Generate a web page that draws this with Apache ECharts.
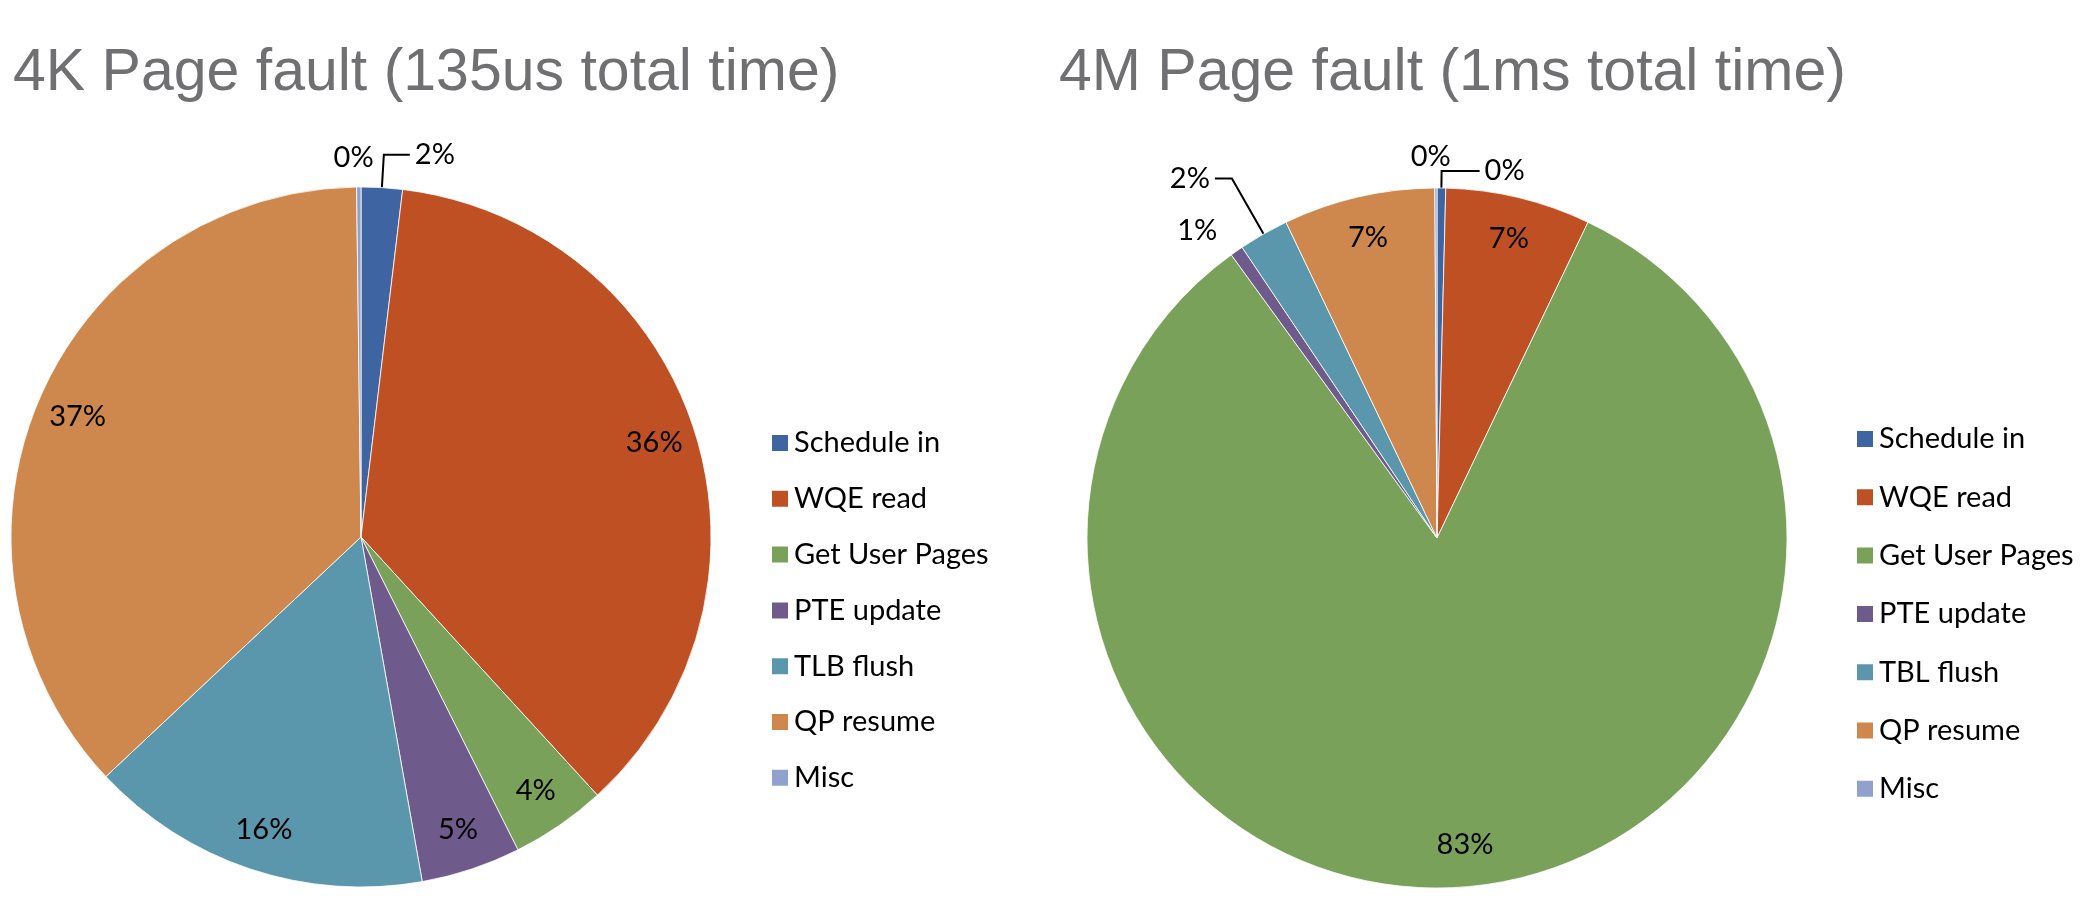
<!DOCTYPE html>
<html><head><meta charset="utf-8">
<script src="https://cdn.jsdelivr.net/npm/echarts@6/dist/echarts.min.js"></script>
<style>html,body{margin:0;padding:0;background:#fff}#c{width:2080px;height:904px}</style>
</head><body><div id="c"></div>
<script>
// ---- data ----
const titles = ['4K Page fault (135us total time)', '4M Page fault (1ms total time)'];
const categories4K = ['Schedule in', 'WQE read', 'Get User Pages', 'PTE update', 'TLB flush', 'QP resume', 'Misc'];
const categories4M = ['Schedule in', 'WQE read', 'Get User Pages', 'PTE update', 'TBL flush', 'QP resume', 'Misc'];
const values4K = [1.9, 36.3, 4.4, 4.6, 15.8, 36.8, 0.2];
const values4M = [0.4, 6.7, 82.9, 0.6, 2.3, 7.0, 0.1];

// ---- styles ----
const colors = ['#3E64A1', '#BE5023', '#79A159', '#6E5B8C', '#5A97AC', '#CE874C', '#8FA1CC'];
const labelFont = 'Lato';
const labelSize = 29;
// outside label settings (label line lengths), per pie
const outside4K = {
  'Schedule in': { length: 33, length2: 26, line: true },
  'Misc': { length: 29, length2: 0, line: false, center: true }
};
const outside4M = {
  'Schedule in': { length: 17, length2: 38, line: true },
  'Misc': { length: 31, length2: 0, line: false, center: true },
  'PTE update': { length: 25, length2: 0, line: false },
  'TBL flush': { length: 64, length2: 17, line: true }
};

function mainData(cats, vals, outside) {
  return cats.map((n, i) => {
    const o = outside[n];
    const item = { name: n, value: vals[i], itemStyle: { color: colors[i] } };
    if (o) {
      item.label = { show: true, position: 'outside' };
      item.labelLine = { show: o.line, length: o.length, length2: o.length2 };
    } else {
      item.label = { show: false };
      item.labelLine = { show: false };
    }
    return item;
  });
}
function ringData(cats, vals, outside) {
  return cats.map((n, i) => ({
    name: n, value: vals[i],
    label: { show: !outside[n] }
  }));
}
function centerLayout(cats, outside) {
  return function (p) {
    const n = cats[p.dataIndex];
    if (outside[n] && outside[n].center) return { align: 'center' };
    return {};
  };
}

const commonLabel = {
  fontFamily: labelFont, fontSize: labelSize, color: '#000',
  formatter: '{d}%', distanceToLabelLine: 5
};

function mainSeries(center, cats, vals, outside) {
  return {
    type: 'pie', center: center, radius: [0, 350], startAngle: 90, clockwise: true,
    percentPrecision: 0, avoidLabelOverlap: false, animation: false,
    emphasis: { disabled: true },
    itemStyle: { borderColor: '#fff', borderWidth: 0.8 },
    label: commonLabel,
    labelLine: { lineStyle: { color: '#000', width: 2 }, minTurnAngle: 0, maxSurfaceAngle: 180 },
    labelLayout: centerLayout(cats, outside),
    data: mainData(cats, vals, outside)
  };
}
function ringSeries(center, cats, vals, outside) {
  return {
    type: 'pie', center: center, radius: [260, 350], startAngle: 90, clockwise: true,
    percentPrecision: 0, avoidLabelOverlap: false, animation: false, silent: true,
    emphasis: { disabled: true },
    itemStyle: { color: 'rgba(0,0,0,0)' },
    label: Object.assign({ position: 'inside' }, commonLabel),
    labelLine: { show: false },
    data: ringData(cats, vals, outside)
  };
}

const chart = echarts.init(document.getElementById('c'), null, { renderer: 'canvas' });
const titleStyle = { fontFamily: 'Liberation Sans', fontSize: 59, fontWeight: 'normal', color: '#707073' };
const legendText = { fontFamily: labelFont, fontSize: labelSize, color: '#000', lineHeight: 30 };
chart.setOption({
  backgroundColor: '#fff',
  title: [
    { text: titles[0], left: 8, top: 39, textStyle: titleStyle },
    { text: titles[1], left: 1054, top: 39, textStyle: titleStyle }
  ],
  legend: [
    { orient: 'vertical', left: 765, top: 423, itemWidth: 18, itemHeight: 18, itemGap: 25.8,
      icon: 'rect', selectedMode: false, textStyle: legendText, data: categories4K },
    { orient: 'vertical', left: 1850, top: 419, itemWidth: 18, itemHeight: 18, itemGap: 28.3,
      icon: 'rect', selectedMode: false, textStyle: legendText, data: categories4M }
  ],
  series: [
    mainSeries([361, 537], categories4K, values4K, outside4K),
    mainSeries([1437, 538], categories4M, values4M, outside4M),
    ringSeries([361, 537], categories4K, values4K, outside4K),
    ringSeries([1437, 538], categories4M, values4M, outside4M)
  ]
});
</script></body></html>
